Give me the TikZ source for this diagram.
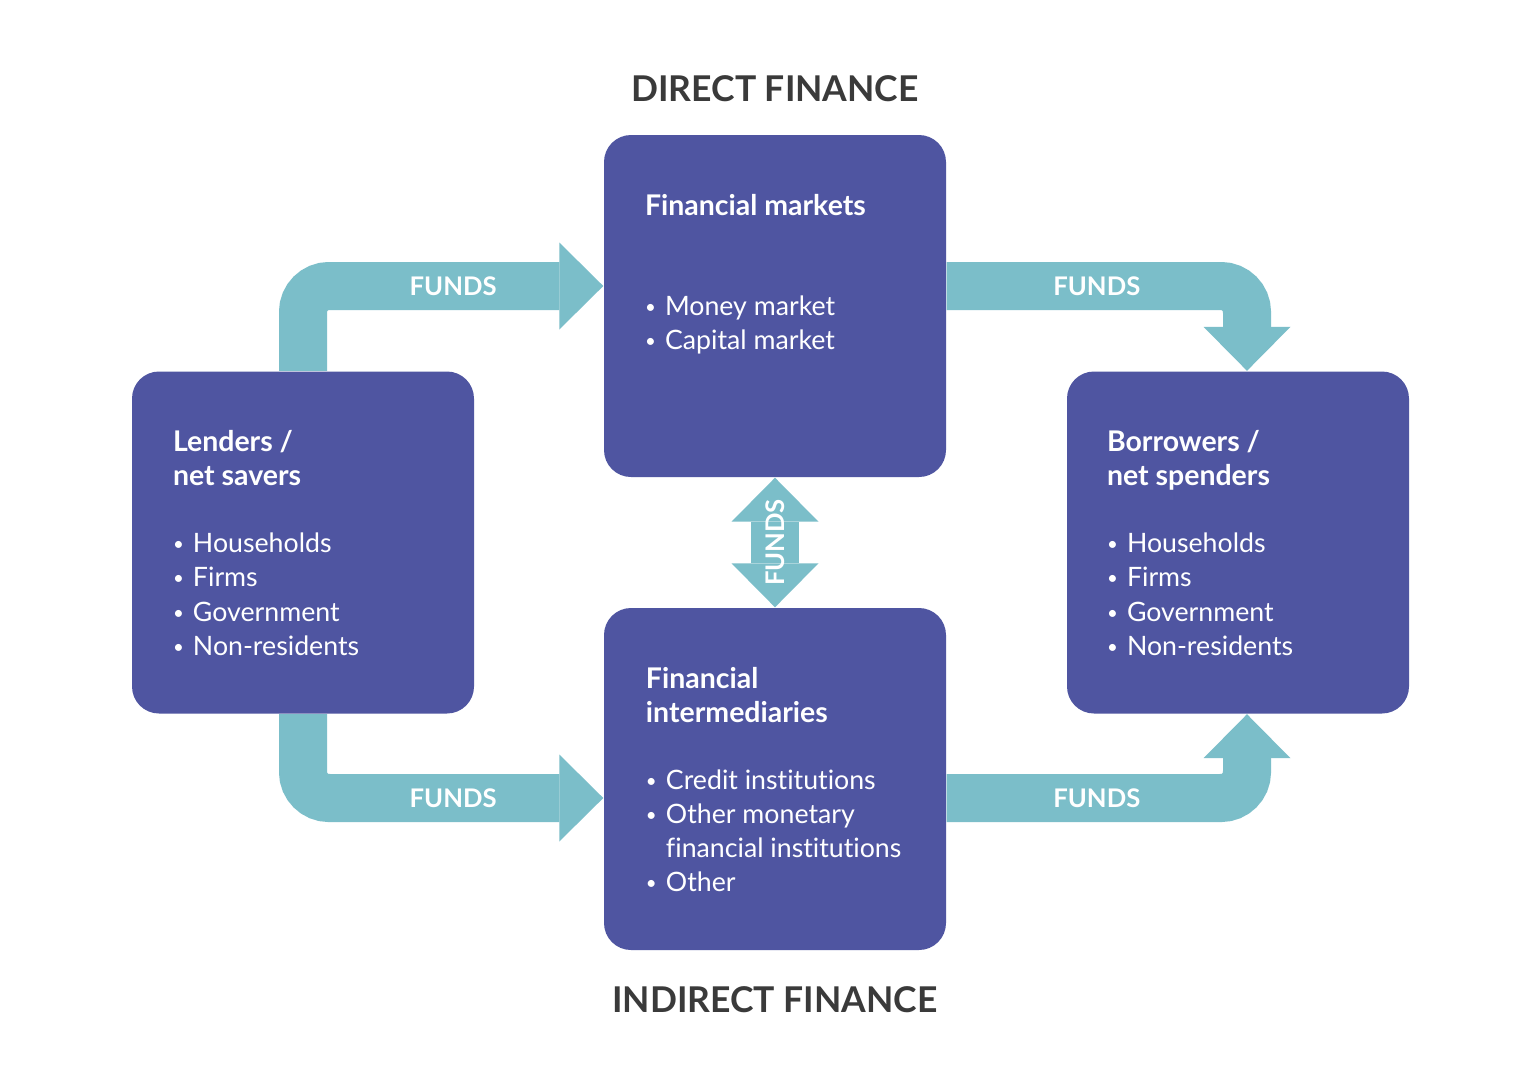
\documentclass[tikz,border=0pt]{standalone}
\usepackage{fontspec}
\setmainfont{Lato}[Ligatures=NoCommon]
\usetikzlibrary{arrows.meta,positioning}

\definecolor{boxblue}{HTML}{4F55A1}
\definecolor{fundteal}{HTML}{7BBEC9}
\definecolor{headgray}{HTML}{3A3A3A}

\newcommand\itm{\makebox[2mm][l]{\raisebox{0.15ex}{\scalebox{0.7}{\textbullet}}}}
\newcommand\hd[1]{{\fontsize{8.1pt}{9.7pt}\selectfont\bfseries #1}}

\tikzset{
	fbox/.style={fill=boxblue, rounded corners=2.7mm, minimum width=3.42cm, minimum height=3.42cm, inner sep=0},
	ftext/.style={anchor=north west, inner sep=0, text=white, align=left, font=\fontsize{7.6pt}{9.7pt}\selectfont},
	fundtip/.tip={Triangle[width=8.7mm,length=4.4mm,line width=0pt]},
	fund/.style={draw=fundteal, line width=4.8mm, rounded corners=2.6mm, -fundtip},
	flabel/.style={text=white, inner sep=0, font=\fontsize{7.3pt}{8pt}\selectfont\bfseries},
	ftitle/.style={text=headgray, inner sep=0, font=\fontsize{10.1pt}{12pt}\selectfont\bfseries},
}

\begin{document}
\begin{tikzpicture}
	\path[fill=white, use as bounding box] (0,0) rectangle (15.4,-10.9);

	% the four boxes
	\node [fbox] (fm) at (7.75,-3.06) {};
	\node [fbox] (fi) at (7.75,-7.79) {};
	\node [fbox] (lend) at (3.03,-5.425) {};
	\node [fbox] (bor) at (12.38,-5.425) {};

	\node [ftitle, above=3.2mm of fm] (direct) {DIRECT FINANCE};
	\node [ftitle, below=3.5mm of fi] (indirect) {INDIRECT FINANCE};

	\node [ftext] (fmtxt) at ([xshift=4.1mm,yshift=-5.9mm]fm.north west)
		{\hd{Financial markets}\\[6.6mm]
		 \itm Money market\\
		 \itm Capital market};
	\node [ftext] (fitxt) at ([xshift=4.2mm,yshift=-5.9mm]fi.north west)
		{\hd{Financial}\\
		 \hd{intermediaries}\\[3.3mm]
		 \itm Credit institutions\\
		 \itm Other monetary\\
		 \hspace*{2mm}financial institutions\\
		 \itm Other};
	\node [ftext] (lendtxt) at ([xshift=4.1mm,yshift=-5.9mm]lend.north west)
		{\hd{Lenders /}\\
		 \hd{net savers}\\[3.3mm]
		 \itm Households\\
		 \itm Firms\\
		 \itm Government\\
		 \itm Non-residents};
	\node [ftext] (bortxt) at ([xshift=4.0mm,yshift=-5.9mm]bor.north west)
		{\hd{Borrowers /}\\
		 \hd{net spenders}\\[3.3mm]
		 \itm Households\\
		 \itm Firms\\
		 \itm Government\\
		 \itm Non-residents};

	% flows of funds
	\draw [fund] (lend.north) |- ([yshift=2mm]fm.west) node[pos=0.75, flabel] {FUNDS};
	\draw [fund] ([yshift=2mm]fm.east) -| ([xshift=0.9mm]bor.north) node[pos=0.25, flabel] {FUNDS};
	\draw [fund] (lend.south) |- ([yshift=-1.9mm]fi.west) node[pos=0.75, flabel] {FUNDS};
	\draw [fund] ([yshift=-1.9mm]fi.east) -| ([xshift=0.9mm]bor.south) node[pos=0.25, flabel] {FUNDS};
	\draw [fund, fundtip-fundtip] (fm) -- (fi) node[midway, rotate=90, flabel] {FUNDS};
\end{tikzpicture}
\end{document}
